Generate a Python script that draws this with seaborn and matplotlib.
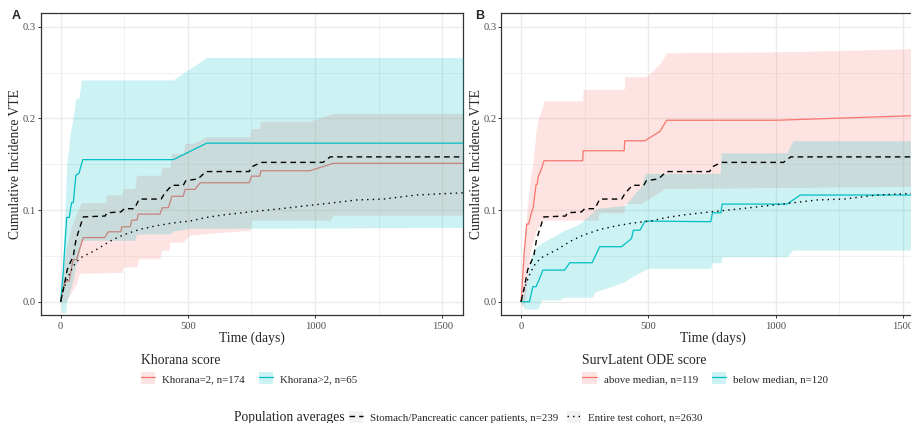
import numpy as np
import pandas as pd
import matplotlib
matplotlib.use("Agg")
import matplotlib.pyplot as plt
import seaborn as sns
from matplotlib.patches import Patch
from matplotlib.lines import Line2D

# ---- data ----
# population averages (same in both panels)
stomach_day = [0, 13, 26, 50, 60, 72, 89, 175, 182, 237, 250, 290, 309, 395, 408, 437, 482, 492,
               540, 571, 741, 750, 787, 1031, 1059, 1600]
stomach_ci = [0, 0.016, 0.035, 0.05, 0.067, 0.078, 0.0925, 0.0935, 0.097, 0.098, 0.1015, 0.1015,
              0.112, 0.112, 0.118, 0.127, 0.127, 0.132, 0.134, 0.142, 0.142, 0.147, 0.152, 0.152,
              0.158, 0.158]
cohort_day = [0, 10, 20, 37, 55, 79, 100, 142, 194, 247, 312, 378, 443, 509, 574, 639, 744, 875,
              966, 1071, 1163, 1268, 1399, 1517, 1600]
cohort_ci = [0, 0.012, 0.02, 0.032, 0.041, 0.048, 0.051, 0.057, 0.066, 0.073, 0.079, 0.083, 0.086,
             0.088, 0.092, 0.0947, 0.098, 0.1018, 0.1047, 0.108, 0.111, 0.112, 0.1164, 0.118, 0.119]

# panel A: Khorana=2
kh2_day = [0, 10, 17, 34, 45, 50, 63, 73, 89, 174, 187, 237, 240, 273, 280, 300, 305, 390, 400,
           423, 430, 437, 482, 489, 528, 548, 741, 750, 783, 787, 980, 1071, 1600]
kh2_ci = [0, 0.015, 0.0226, 0.0226, 0.04, 0.046, 0.046, 0.056, 0.070, 0.070, 0.0763, 0.0763,
          0.0818, 0.0818, 0.089, 0.089, 0.0956, 0.0956, 0.1025, 0.1025, 0.108, 0.115, 0.115,
          0.1226, 0.1226, 0.1298, 0.1298, 0.137, 0.137, 0.1429, 0.1429, 0.151, 0.151]
kh2_up_day = [0, 8, 20, 40, 60, 82, 176, 181, 240, 246, 292, 298, 392, 397, 430, 436, 482, 488,
              520, 574, 744, 750, 780, 786, 980, 1071, 1600]
kh2_up = [0, 0.03, 0.055, 0.08, 0.095, 0.108, 0.108, 0.1165, 0.1165, 0.1235, 0.1235, 0.138,
          0.138, 0.147, 0.147, 0.162, 0.162, 0.1727, 0.1727, 0.18, 0.18, 0.189, 0.189, 0.197,
          0.197, 0.2055, 0.2055]
kh2_lo_day = [0, 20, 50, 63, 73, 240, 246, 300, 305, 390, 397, 425, 430, 480, 508, 600, 744, 750,
              1060, 1071, 1600]
kh2_lo = [0, 0.0, 0.014, 0.02, 0.031, 0.032, 0.038, 0.038, 0.047, 0.047, 0.056, 0.056, 0.065,
          0.065, 0.0727, 0.075, 0.078, 0.089, 0.089, 0.0945, 0.0945]

# panel A: Khorana>2
khg_day = [0, 10, 24, 34, 43, 50, 60, 72, 87, 443, 574, 1600]
khg_ci = [0, 0.031, 0.092, 0.092, 0.108, 0.108, 0.138, 0.14, 0.155, 0.155, 0.173, 0.173]
khg_up_day = [0, 5, 10, 20, 24, 30, 37, 50, 60, 72, 82, 443, 574, 1600]
khg_up = [0, 0.02, 0.053, 0.12, 0.151, 0.162, 0.182, 0.202, 0.222, 0.222, 0.242, 0.242, 0.2665,
          0.2665]
khg_lo_day = [0, 5, 20, 24, 37, 50, 60, 72, 82, 292, 298, 430, 440, 508, 1600]
khg_lo = [0, -0.012, -0.012, 0.0, 0.012, 0.025, 0.04, 0.05, 0.067, 0.067, 0.074, 0.074, 0.077,
          0.080, 0.081]

# panel B: above median
abv_day = [0, 12, 22, 30, 37, 48, 59, 63, 67, 81, 90, 242, 244, 405, 407, 487, 546, 572, 1005,
           1600]
abv_ci = [0, 0.0528, 0.0847, 0.0847, 0.0935, 0.1036, 0.128, 0.128, 0.136, 0.1455, 0.1538, 0.1538,
          0.1647, 0.1647, 0.1756, 0.1756, 0.186, 0.198, 0.198, 0.2035]
abv_up_day = [0, 5, 12, 22, 37, 48, 59, 67, 81, 90, 242, 244, 405, 407, 487, 507, 546, 572, 1057,
              1600]
abv_up = [0, 0.02, 0.053, 0.0964, 0.136, 0.1545, 0.187, 0.2, 0.21, 0.219, 0.219, 0.2316, 0.2316,
          0.2454, 0.2454, 0.249, 0.26, 0.2716, 0.2728, 0.2765]
abv_lo_day = [0, 5, 15, 26, 40, 60, 86, 303, 305, 405, 408, 470, 566, 1600]
abv_lo = [0, -0.006, 0.0, 0.031, 0.06, 0.078, 0.089, 0.089, 0.097, 0.097, 0.107, 0.107, 0.1235,
          0.126]

# panel B: below median
blw_day = [0, 33, 46, 59, 72, 86, 171, 191, 279, 290, 309, 395, 434, 441, 467, 487, 745, 752,
           785, 790, 1045, 1097, 1600]
blw_ci = [0, 0, 0.0164, 0.0164, 0.025, 0.0345, 0.0345, 0.0425, 0.0425, 0.049, 0.06, 0.06, 0.069,
          0.078, 0.078, 0.088, 0.0873, 0.097, 0.097, 0.1065, 0.1065, 0.1164, 0.1164]
blw_up_day = [0, 10, 25, 40, 60, 86, 171, 230, 290, 303, 408, 474, 487, 782, 786, 1045, 1068, 1600]
blw_up = [0, 0.01, 0.03, 0.05, 0.06, 0.065, 0.078, 0.085, 0.1, 0.102, 0.105, 0.127, 0.14, 0.14,
          0.1625, 0.1625, 0.1756, 0.1756]
blw_lo_day = [0, 15, 66, 80, 150, 171, 280, 290, 350, 408, 434, 474, 500, 745, 750, 785, 790,
              1045, 1068, 1600]
blw_lo = [0, -0.008, -0.008, 0.002, 0.002, 0.005, 0.005, 0.011, 0.016, 0.022, 0.027, 0.033,
          0.0364, 0.0364, 0.0425, 0.0425, 0.049, 0.049, 0.0564, 0.0564]

RED = "#F8766D"
CYAN = "#00BFC4"

sns.set_theme(style="white")
plt.rcParams["font.family"] = ["Liberation Serif", "DejaVu Serif"]

fig = plt.figure(figsize=(9.12, 4.23), dpi=100)
W, H = 912, 423


def px_axes(left, top, right, bottom):
    return fig.add_axes([left / W, 1 - bottom / H, (right - left) / W, (bottom - top) / H])


def band(ax, d_up, up, d_lo, lo, color, z):
    grid = np.union1d(d_up, d_lo)
    ax.fill_between(grid, np.interp(grid, d_lo, lo), np.interp(grid, d_up, up),
                    color=color, alpha=0.2, lw=0, zorder=z)


def curve(ax, d, v, color, z, ls="-", lw=0.9):
    df = pd.DataFrame({"day": d, "ci": v})
    sns.lineplot(data=df, x="day", y="ci", ax=ax, color=color, lw=lw, ls=ls,
                 estimator=None, sort=False, zorder=z)


def style(ax):
    ax.set_xlim(-77, 1581)
    ax.set_ylim(-0.0145, 0.315)
    ax.set_xticks([0, 500, 1000, 1500])
    ax.set_yticks([0.0, 0.1, 0.2, 0.3])
    ax.set_yticklabels(["0.0", "0.1", "0.2", "0.3"])
    ax.set_xticks([250, 750, 1250], minor=True)
    ax.set_yticks([0.05, 0.15, 0.25], minor=True)
    ax.grid(True, which="major", color="#EBEBEB", lw=1.0, zorder=0)
    ax.grid(True, which="minor", color="#EBEBEB", lw=0.5, zorder=0)
    ax.set_axisbelow(True)
    ax.tick_params(which="major", length=2.4, width=0.7, color="#333333",
                   labelcolor="#4D4D4D", labelsize=7.6, pad=1.2, bottom=True, left=True)
    ax.tick_params(axis="x", which="major", pad=2.8)
    ax.tick_params(which="minor", length=0)
    for s in ax.spines.values():
        s.set_color("#333333")
        s.set_linewidth(0.9)
    ax.set_xlabel("Time (days)", fontsize=9.8, labelpad=0)
    ax.set_ylabel("Cumulative Incidence VTE", fontsize=9.8, labelpad=0.5)


axA = px_axes(41, 13, 463, 315)
band(axA, kh2_up_day, kh2_up, kh2_lo_day, kh2_lo, RED, 1)
curve(axA, kh2_day, kh2_ci, RED, 2)
band(axA, khg_up_day, khg_up, khg_lo_day, khg_lo, CYAN, 3)
curve(axA, khg_day, khg_ci, CYAN, 4)
curve(axA, stomach_day, stomach_ci, "black", 5, ls=(0, (4, 3)), lw=1.0)
curve(axA, cohort_day, cohort_ci, "black", 5, ls=(0, (1, 3)), lw=1.0)
style(axA)

axB = px_axes(501.5, 13, 923.5, 315)
band(axB, abv_up_day, abv_up, abv_lo_day, abv_lo, RED, 1)
curve(axB, abv_day, abv_ci, RED, 2)
band(axB, blw_up_day, blw_up, blw_lo_day, blw_lo, CYAN, 3)
curve(axB, blw_day, blw_ci, CYAN, 4)
curve(axB, stomach_day, stomach_ci, "black", 5, ls=(0, (4, 3)), lw=1.0)
curve(axB, cohort_day, cohort_ci, "black", 5, ls=(0, (1, 3)), lw=1.0)
style(axB)

fig.text(12 / W, 1 - 16 / H, "A", fontsize=9, fontweight="bold", family="Liberation Sans",
         va="center", ha="left")
fig.text(475 / W, 1 - 16 / H, "B", fontsize=9, fontweight="bold", family="Liberation Sans",
         va="center", ha="left")


def key(color):
    return (Patch(facecolor=color, alpha=0.2, edgecolor="none"),
            Line2D([], [], color=color, lw=0.9))


leg_kw = dict(frameon=False, fontsize=7.8, title_fontsize=9.8, ncol=2, handlelength=1.3,
              handleheight=1.3, handletextpad=0.65, columnspacing=1.3, borderpad=0,
              borderaxespad=0, alignment="left", loc="upper left", labelspacing=0.5)
fig.legend([key(RED), key(CYAN)], ["Khorana=2, n=174", "Khorana>2, n=65"],
           title="Khorana score", bbox_to_anchor=(141 / W, 1 - 354 / H), **leg_kw)
fig.legend([key(RED), key(CYAN)], ["above median, n=119", "below median, n=120"],
           title="SurvLatent ODE score", bbox_to_anchor=(582.5 / W, 1 - 354 / H), **leg_kw)

fig.text(234 / W, 1 - 417 / H, "Population averages", fontsize=9.8, va="center", ha="left")
grey_key = Patch(facecolor="#F2F2F2", edgecolor="none")
fig.legend([(grey_key, Line2D([], [], color="black", lw=1.0, ls=(0, (4, 3)))),
            (grey_key, Line2D([], [], color="black", lw=1.0, ls=(0, (1, 3))))],
           ["Stomach/Pancreatic cancer patients, n=239", "Entire test cohort, n=2630"],
           frameon=False, fontsize=7.8, ncol=2, handlelength=1.3, handleheight=1.3,
           handletextpad=0.65, columnspacing=0.75, borderpad=0, borderaxespad=0,
           loc="center left", bbox_to_anchor=(349 / W, 1 - 417 / H))

fig.savefig("out.png", dpi=100)
